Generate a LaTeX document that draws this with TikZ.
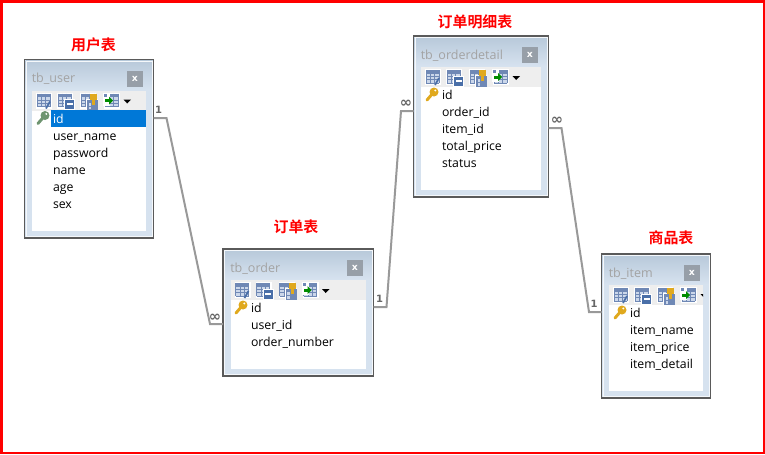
\documentclass[tikz,border=0pt]{standalone}
\usepackage{fontspec}
\setmainfont{Open Sans}
\newfontfamily\cjkfont{Noto Sans CJK SC}[BoldFont=* Bold]
\newfontfamily\symfont{DejaVu Sans}
\definecolor{barTop}{HTML}{B8C9DA}
\definecolor{barBot}{HTML}{D6E2EF}
\definecolor{frameCol}{HTML}{5A5A5A}
\definecolor{linkCol}{HTML}{999999}
\definecolor{markCol}{HTML}{666666}
\definecolor{titleCol}{HTML}{A3A3A3}
\definecolor{toolCol}{HTML}{EEEEEE}
\definecolor{btnCol}{HTML}{979FA8}
\definecolor{selCol}{HTML}{0078D7}
\definecolor{gridCol}{HTML}{6F88B5}
\definecolor{gridPale}{HTML}{CBD7EA}
\definecolor{gridDark}{HTML}{4A6FA8}
\definecolor{keyGold}{HTML}{E0A91E}
\definecolor{keyGreen}{HTML}{6E9470}
\tikzset{
  x=0.75pt,y=-0.75pt,
  tablebox/.style={draw=frameCol,line width=.8pt,fill=barBot,inner sep=0pt,outer sep=0pt},
  rowtext/.style={anchor=west,inner sep=0pt,outer sep=0pt,font=\fontsize{9.2}{10}\selectfont,text height=8.8pt,text depth=.3pt},
  titletext/.style={anchor=west,inner sep=0pt,font=\fontsize{9.4}{11}\selectfont,text=titleCol},
  captiontext/.style={inner sep=0pt,text=red,font=\cjkfont\bfseries\fontsize{11.2}{12}\selectfont},
  closebtn/.style={fill=btnCol,text=white,inner sep=0pt,minimum size=12pt,font=\symfont\bfseries\fontsize{7}{7}\selectfont},
  link/.style={draw=linkCol,line width=1.5pt,line join=miter},
  onemark/.style={inner sep=0pt,text=markCol,font=\symfont\bfseries\fontsize{7.5}{8}\selectfont},
  manymark/.style={inner sep=0pt,text=markCol,font=\symfont\bfseries\fontsize{11}{11}\selectfont},
  gridicon/.pic={
    \fill[white] (-1,-1) rectangle (15,15);
    \fill[gridPale] (0,0) rectangle (13,13);
    \fill[gridCol] (0,0) rectangle (13,3);
    \foreach \p in {0,4.3,8.6,13}{\draw[gridCol,line width=.45pt] (\p,0) -- (\p,13);}
    \foreach \p in {3,6.3,9.6,13}{\draw[gridCol,line width=.45pt] (0,\p) -- (13,\p);}
  },
  keyicon/.pic={
    \draw[#1,line width=2.2pt,line cap=round] (0,0) -- (-6,7);
    \fill[#1] (1,-1) circle[radius=4.5];
    \fill[white] (2.3,-2.6) circle[radius=1.1];
  },
  toolicons/.pic={
    \pic at (5,3) {gridicon};
    \draw[gridDark,line width=1.3pt] (14,18) -- (18,11);
    \pic at (26,3) {gridicon};
    \fill[white] (32,8.5) rectangle (43,19.5);
    \fill[gridDark] (33,9.5) rectangle (42,18.5);
    \fill[white] (34.5,12.5) rectangle (40.5,14.5);
    \pic at (49,3) {gridicon};
    \fill[white] (54,8) rectangle (66,20);
    \fill[gridCol] (55,9) rectangle (66,19.5);
    \fill[gridPale] (56.5,12) rectangle (59,15);
    \fill[gridPale] (56.5,16) rectangle (59,18.5);
    \fill[keyGold] (58,3) rectangle (65,9);
    \fill[keyGold] (60,9) rectangle (63,14);
    \pic at (73,3) {gridicon};
    \fill[white] (71,2) rectangle (78,15);
    \fill[gridCol] (72,3) rectangle (75,6);
    \fill[green!55!black] (73,8.5) rectangle (77,11.5);
    \fill[green!55!black] (77,6) -- (81,10) -- (77,14) -- cycle;
    \fill[black] (91.5,9) -- (99,9) -- (95.2,13) -- cycle;
  }
}
% name, left, top, right, bottom, title, text x, key colour
\newcommand{\dbtable}[8]{
  \node[tablebox,minimum width={(#4-#2)*0.75pt},minimum height={(#5-#3)*0.75pt}] (#1) at ({(#2+#4)/2},{(#3+#5)/2}) {};
  \shade[top color=barTop,bottom color=barBot] (#2+1,#3+1) rectangle (#4-1,#3+30);
  \draw[white!75!barBot,line width=.7pt] (#2+1.5,#3+1.5) rectangle (#4-1.5,#5-1.5);
  \fill[white] (#2+7.5,#3+31) rectangle (#4-7.5,#5-7.5);
  \begin{scope}
    \clip (#2+7.5,#3+31) rectangle (#4-7.5,#3+51);
    \fill[toolCol] (#2+7.5,#3+31) rectangle (#4-7.5,#3+51);
    \pic at (#2+7.5,#3+31) {toolicons};
  \end{scope}
  \node[titletext] (#1-title) at (#2+7,#3+19.5) {#6};
  \node[closebtn] (#1-close) at (#4-18.5,#3+19) {x};
  \pic at (#7-9,#3+57) {keyicon=#8};
}
\begin{document}
\begin{tikzpicture}
\useasboundingbox (0,0) rectangle (765,454);
\fill[white] (0,0) rectangle (765,454);
\fill[red] (0,0) rectangle (765,2.5);
\fill[red] (0,452) rectangle (765,454);
\fill[red] (0,0) rectangle (3,454);
\fill[red] (763,0) rectangle (765,454);

\dbtable{user}{24.5}{59.5}{153.5}{238}{tb\_user}{53}{keyGreen}
\dbtable{order}{223}{249}{373.5}{376}{tb\_order}{251}{keyGold}
\dbtable{detail}{413.5}{36}{548.5}{197}{tb\_orderdetail}{442}{keyGold}
\dbtable{item}{601.5}{254}{710.5}{398}{tb\_item}{630}{keyGold}

\fill[selCol] (51,110) rectangle (146,127);

\node[rowtext,text=white] (user-id) at (53,118) {id};
\node[rowtext] (user-name) at (53,135) {user\_name};
\node[rowtext] (user-pass) at (53,152) {password};
\node[rowtext] (user-nm) at (53,169) {name};
\node[rowtext] (user-age) at (53,186) {age};
\node[rowtext] (user-sex) at (53,203) {sex};

\node[rowtext] (order-id) at (251,307) {id};
\node[rowtext] (order-user) at (251,324) {user\_id};
\node[rowtext] (order-num) at (251,341) {order\_number};

\node[rowtext] (detail-id) at (442,94) {id};
\node[rowtext] (detail-order) at (442,111) {order\_id};
\node[rowtext] (detail-item) at (442,128) {item\_id};
\node[rowtext] (detail-total) at (442,145) {total\_price};
\node[rowtext] (detail-status) at (442,162) {status};

\node[rowtext] (item-id) at (630,312) {id};
\node[rowtext] (item-name) at (630,329) {item\_name};
\node[rowtext] (item-price) at (630,346) {item\_price};
\node[rowtext] (item-detail) at (630,363) {item\_detail};

\node[captiontext] (cap-user) at (93.5,45) {用户表};
\node[captiontext] (cap-order) at (296,227) {订单表};
\node[captiontext] (cap-detail) at (475,22) {订单明细表};
\node[captiontext] (cap-item) at (671,238) {商品表};

\coordinate (e1a) at (166.5,118);
\coordinate (e1b) at (210,324);
\coordinate (e2a) at (386.5,307);
\coordinate (e2b) at (401,111);
\coordinate (e3a) at (561.5,128);
\coordinate (e3b) at (589,312);
\draw[link] (user.east |- user-id) -- (e1a) -- (e1b) -- (order.west |- order-user);
\draw[link] (order.east |- order-id) -- (e2a) -- (e2b) -- (detail.west |- detail-order);
\draw[link] (detail.east |- detail-item) -- (e3a) -- (e3b) -- (item.west |- item-id);

\node[onemark] (m1) at (158.5,110) {1};
\node[manymark] (m2) at (215,317.5) {∞};
\node[onemark] (m3) at (379.5,298.5) {1};
\node[manymark] (m4) at (406,104) {∞};
\node[manymark] (m5) at (557,121) {∞};
\node[onemark] (m6) at (594,304) {1};
\end{tikzpicture}
\end{document}
